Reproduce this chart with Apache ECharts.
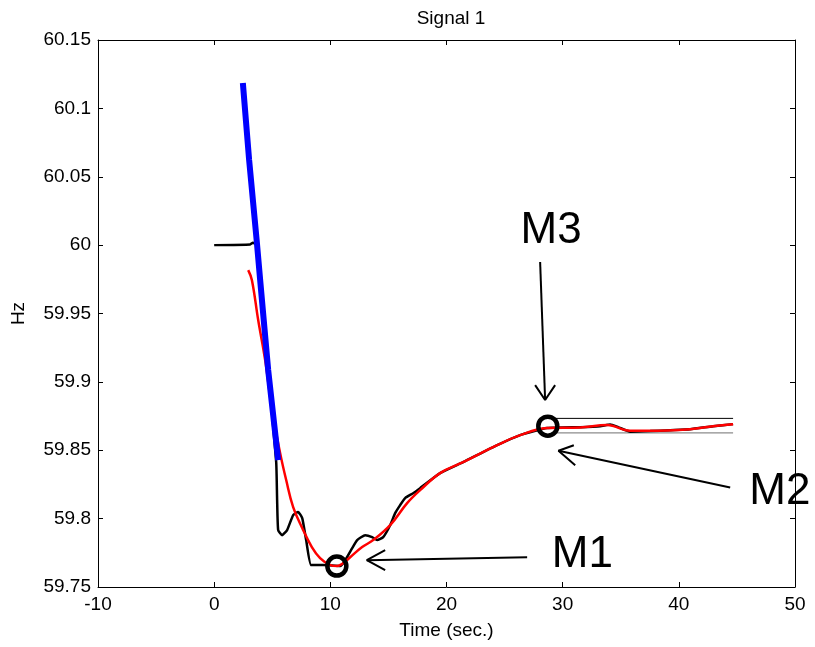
<!DOCTYPE html>
<html>
<head>
<meta charset="utf-8">
<script src="https://cdn.jsdelivr.net/npm/echarts@6/dist/echarts.min.js"></script>
<style>
html,body{margin:0;padding:0;background:#fff;}
#chart{width:815px;height:647px;}
</style>
</head>
<body>
<div id="chart"></div>
<script>
// ---- Data ----
const xTicks = [-10, 0, 10, 20, 30, 40, 50];
const yTicks = [59.75, 59.8, 59.85, 59.9, 59.95, 60, 60.05, 60.1, 60.15];

// Measured signal (black)
const blackTime = [0, 3.10, 3.33, 3.68, 3.96, 4.65, 5.34, 5.42, 5.51, 5.85, 6.28, 6.80, 7.23, 7.58, 7.92, 8.35, 9.38, 10.85, 11.28, 11.88, 12.31, 13.00, 13.60, 14.03, 14.55, 15.15, 15.58, 16.01, 16.44, 17.13, 17.73, 19.45, 21.43, 24.36, 26.34, 28.66, 31.51, 33.23, 34.09, 34.78, 35.81, 37.53, 39.25, 40.97, 42.95, 44.67];
const blackHz = [60, 60.0005, 60.0017, 60.0, 59.9744, 59.9086, 59.8413, 59.8135, 59.7916, 59.7879, 59.7916, 59.8026, 59.8048, 59.8004, 59.7843, 59.7660, 59.7660, 59.7653, 59.7696, 59.7784, 59.7843, 59.7879, 59.7865, 59.7843, 59.7865, 59.7952, 59.8040, 59.8099, 59.8150, 59.8186, 59.8223, 59.8333, 59.8413, 59.8537, 59.8611, 59.8662, 59.8669, 59.8676, 59.8689, 59.8669, 59.8636, 59.8640, 59.8647, 59.8654, 59.8676, 59.8691];

// Fitted curve (red)
const redTime = [2.93, 3.25, 3.79, 4.39, 4.99, 5.68, 6.20, 6.80, 7.58, 8.41, 9.12, 9.99, 10.59, 11.10, 11.71, 12.74, 13.69, 15.15, 16.61, 17.73, 19.45, 21.43, 24.36, 26.34, 28.66, 31.51, 33.83, 35.81, 37.27, 40.97, 42.95, 44.67];
const redHz = [59.9817, 59.9744, 59.9452, 59.9159, 59.8793, 59.8479, 59.8282, 59.8084, 59.7931, 59.7792, 59.7711, 59.7660, 59.7653, 59.7674, 59.7718, 59.7792, 59.7843, 59.7952, 59.8113, 59.8208, 59.8333, 59.8413, 59.8537, 59.8611, 59.8662, 59.8667, 59.8684, 59.8642, 59.8642, 59.8654, 59.8676, 59.8691];

// Initial slope (blue)
const blueTime = [2.47, 3.01, 3.68, 3.96, 4.65, 5.51];
const blueHz = [60.1185, 60.0622, 60.0015, 59.9744, 59.9086, 59.8428];

// Settling band
const bandTime = [29.2, 44.67];
const bandUpper = 59.8733;
const bandLower = 59.8627;

// Marker circles
const circleTime = [10.56, 28.72];
const circleHz = [59.7653, 59.8676];

// Annotation arrows: [tail, tip] and heads [h1, tip, h2]
const arrowM1 = [[26.94, 59.7718], [13.14, 59.7696]];
const headM1 = [[14.72, 59.7770], [13.14, 59.7696], [14.72, 59.7623]];
const arrowM2 = [[44.42, 59.8228], [29.64, 59.8496]];
const headM2 = [[30.96, 59.8537], [29.64, 59.8496], [31.08, 59.8391]];
const arrowM3 = [[28.06, 59.9876], [28.49, 59.8867]];
const headM3 = [[27.63, 59.8976], [28.49, 59.8867], [29.35, 59.8976]];

// Annotation labels
const labelNames = ['M1', 'M2', 'M3'];
const labelPos = [[31.7, 59.7733], [48.7, 59.8194], [29.0, 60.0105]];

// ---- Build ----
const zip = (a, b) => a.map((v, i) => [v, b[i]]);
const FONT = 'Liberation Sans, Arial, sans-serif';
const fmt = v => String(parseFloat(Number(v).toFixed(2)));

const chart = echarts.init(document.getElementById('chart'), null, {renderer: 'canvas'});

const axisCommon = {
  axisLine: {show: true, onZero: false, lineStyle: {color: '#000', width: 1}},
  axisTick: {show: true, inside: true, length: 5, lineStyle: {color: '#000'}},
  splitLine: {show: false}
};

const lineSeries = (data, color, width, z, smooth) => ({
  type: 'line', data: data, symbol: 'none', silent: true, animation: false,
  smooth: smooth || false,
  lineStyle: {color: color, width: width}, z: z || 2
});

const option = {
  animation: false,
  title: {
    text: 'Signal 1', left: 446, top: 4, textAlign: 'center',
    textStyle: {fontFamily: FONT, fontSize: 19, fontWeight: 'normal', color: '#000'}
  },
  grid: {left: 98, right: 20, top: 40, bottom: 60, containLabel: false},
  xAxis: [
    Object.assign({
      type: 'value', min: xTicks[0], max: xTicks[xTicks.length - 1], interval: 10,
      position: 'bottom',
      name: 'Time (sec.)', nameLocation: 'middle', nameGap: 34,
      nameTextStyle: {fontFamily: FONT, fontSize: 19, color: '#000'},
      axisLabel: {fontFamily: FONT, fontSize: 19, color: '#000', margin: 8, formatter: fmt}
    }, axisCommon),
    Object.assign({
      type: 'value', min: xTicks[0], max: xTicks[xTicks.length - 1], interval: 10,
      position: 'top', axisLabel: {show: false}
    }, axisCommon)
  ],
  yAxis: [
    Object.assign({
      type: 'value', min: yTicks[0], max: yTicks[yTicks.length - 1], interval: 0.05,
      position: 'left',
      name: 'Hz', nameLocation: 'middle', nameGap: 70,
      nameTextStyle: {fontFamily: FONT, fontSize: 19, color: '#000'},
      axisLabel: {fontFamily: FONT, fontSize: 19, color: '#000', margin: 7, formatter: fmt}
    }, axisCommon),
    Object.assign({
      type: 'value', min: yTicks[0], max: yTicks[yTicks.length - 1], interval: 0.05,
      position: 'right', axisLabel: {show: false}
    }, axisCommon)
  ],
  series: [
    lineSeries(zip(bandTime, [bandUpper, bandUpper]), '#000', 1, 1),
    lineSeries(zip(bandTime, [bandLower, bandLower]), '#8c8c8c', 1.2, 1),
    lineSeries(zip(blackTime, blackHz), '#000', 2.5, 2, 0.15),
    lineSeries(zip(redTime, redHz), '#ff0000', 2.5, 3, 0.4),
    lineSeries(zip(blueTime, blueHz), '#0000ff', 6, 4),
    {
      type: 'scatter', data: zip(circleTime, circleHz), symbol: 'circle', symbolSize: 19,
      itemStyle: {color: 'rgba(0,0,0,0)', borderColor: '#000', borderWidth: 4.5, opacity: 1},
      silent: true, z: 6
    },
    lineSeries(arrowM1, '#000', 2, 5),
    lineSeries(headM1, '#000', 2, 5),
    lineSeries(arrowM2, '#000', 2, 5),
    lineSeries(headM2, '#000', 2, 5),
    lineSeries(arrowM3, '#000', 2, 5),
    lineSeries(headM3, '#000', 2, 5),
    {
      type: 'scatter', symbolSize: 0, silent: true, z: 7,
      itemStyle: {opacity: 1},
      data: labelPos.map((p, i) => ({value: p, name: labelNames[i]})),
      label: {
        show: true, position: 'inside', formatter: p => p.name,
        fontFamily: FONT, fontSize: 44, color: '#000'
      }
    }
  ]
};
chart.setOption(option);
</script>
</body>
</html>
